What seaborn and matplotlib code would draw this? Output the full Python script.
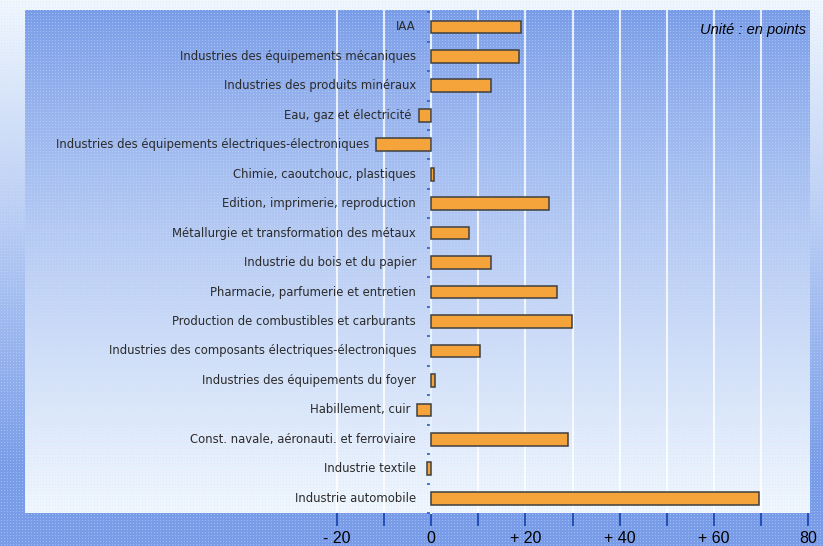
import numpy as np
import pandas as pd
import matplotlib
matplotlib.use("Agg")
import matplotlib.pyplot as plt
import seaborn as sns

categories = [
    "IAA",
    "Industries des équipements mécaniques",
    "Industries des produits minéraux",
    "Eau, gaz et électricité",
    "Industries des équipements électriques-électroniques",
    "Chimie, caoutchouc, plastiques",
    "Edition, imprimerie, reproduction",
    "Métallurgie et transformation des métaux",
    "Industrie du bois et du papier",
    "Pharmacie, parfumerie et entretien",
    "Production de combustibles et carburants",
    "Industries des composants électriques-électroniques",
    "Industries des équipements du foyer",
    "Habillement, cuir",
    "Const. navale, aéronauti. et ferroviaire",
    "Industrie textile",
    "Industrie automobile",
]
values = [19.0, 18.6, 12.7, -2.6, -11.7, 0.6, 25.0, 8.0, 12.7, 26.6,
          29.9, 10.4, 0.8, -3.0, 29.0, -0.8, 69.5]
tick_values = [-20, 0, 20, 40, 60, 80]
tick_labels = ["- 20", "0", "+ 20", "+ 40", "+ 60", "80"]
unit_text = "Unité : en points"

sns.set_theme(style="white")
plt.rcParams["font.family"] = ["DejaVu Sans"]

W, H = 823, 546
fig = plt.figure(figsize=(W / 100, H / 100), dpi=100)

# ---- background image (gradients + dither texture) ----
blue = np.array([0x7a, 0x9c, 0xe8]) / 255.0
light = np.array([0xf2, 0xf7, 0xfe]) / 255.0
px_left, px_right, px_top, px_bot = 25, 810, 10, 513

yy = np.arange(H)[:, None]
xx = np.arange(W)[None, :]
t_out = np.clip((yy - 0) / (H - 80), 0, 1)
img = light + (blue - light) * t_out[..., None]
img = np.broadcast_to(img, (H, W, 3)).copy()
t_in = np.clip((yy - px_top) / (px_bot - px_top), 0, 1) ** 0.85
inner = blue + (light - blue) * t_in[..., None]
inner = np.broadcast_to(inner, (H, W, 3))
mask = (yy >= px_top) & (yy < px_bot) & (xx >= px_left) & (xx < px_right)
img[mask] = inner[mask]
dots = ((yy % 3) == 1) & ((xx % 3) == 1)
dots = np.broadcast_to(dots, (H, W))
tint = np.array([0.74, 0.92, 1.0])
img[dots] = img[dots] * 0.55 + tint * 0.45
fig.figimage(img, xo=0, yo=0, origin="upper", zorder=-10)

ax = fig.add_axes([px_left / W, 1 - px_bot / H, (px_right - px_left) / W,
                   (px_bot - px_top) / H])
ax.set_facecolor("none")
ax.patch.set_alpha(0)
ax.set_zorder(5)

df = pd.DataFrame({"cat": categories, "val": values})
sns.barplot(data=df, y="cat", x="val", orient="h", ax=ax, width=0.43,
            color="#f5a33b", edgecolor="#3f3f3f", linewidth=1.1,
            saturation=1, zorder=3)

ax.set_xlim(-86.2, 80.4)
ax.set_ylim(16.37, -0.573)
ax.set_xlabel("")
ax.set_ylabel("")

# gridlines
for gx in range(-20, 80, 10):
    ax.axvline(gx, color="white", lw=1.5, alpha=0.8, zorder=1)

# spines
for s in ["top", "right", "bottom"]:
    ax.spines[s].set_visible(False)
ax.spines["left"].set_position(("data", 0))
ax.spines["left"].set_color("#e4f3fb")
ax.spines["left"].set_linewidth(1.5)
ax.spines["left"].set_zorder(2)

ax.set_yticks(np.arange(-0.5, len(categories), 1.0))
ax.set_yticklabels([])
ax.tick_params(axis="y", which="both", left=True, direction="out",
               length=3, width=1.2, color="#2a5bd0")

ax.set_xticks(list(range(-20, 81, 10)))
ax.set_xticklabels([tick_labels[tick_values.index(v)] if v in tick_values else ""
                    for v in range(-20, 81, 10)])
ax.tick_params(axis="x", which="both", bottom=True, direction="out",
               length=9, width=1.3, color="#1f48b0", pad=4,
               labelsize=11.5, labelcolor="black")
for lab in ax.get_xticklabels():
    lab.set_fontfamily(["Liberation Sans", "DejaVu Sans"])

# category labels
for i, (c, v) in enumerate(zip(categories, values)):
    xr = min(-3.2, v - 1.5)
    ax.text(xr, i, c, ha="right", va="center", fontsize=8.4,
            color="#2b2b2b", zorder=4)

ax.text(0.995, 0.975, unit_text, transform=ax.transAxes, ha="right", va="top",
        fontsize=10.5, style="italic", color="black",
        family=["Liberation Sans", "DejaVu Sans"])

fig.savefig("out.png", dpi=100)
